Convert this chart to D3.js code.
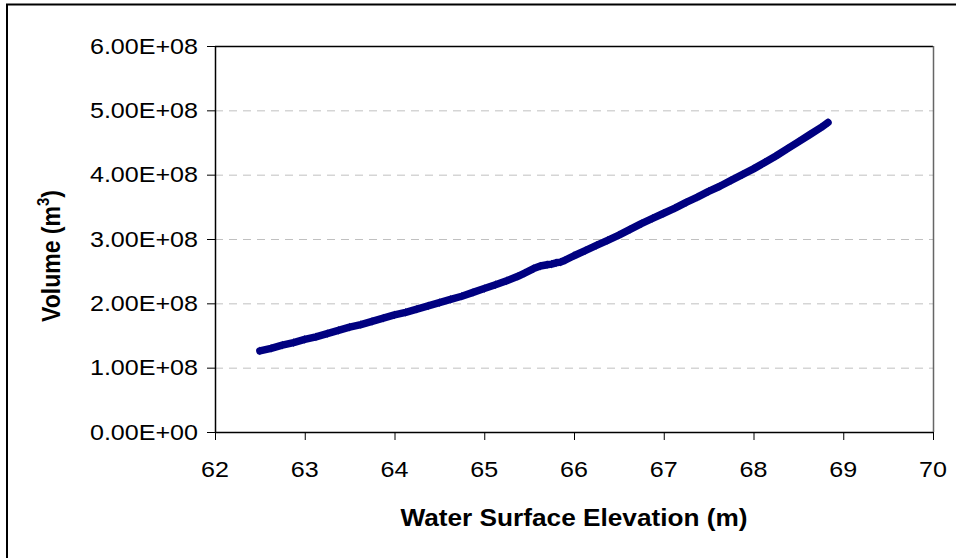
<!DOCTYPE html>
<html>
<head>
<meta charset="utf-8">
<script src="https://cdn.jsdelivr.net/npm/d3@7"></script>
<style>
  body { margin: 0; background: #fff; }
  svg { display: block; }
</style>
</head>
<body>
<svg class="chart"></svg>
<script>
// water surface elevation (m) and volume (m3)
var elevation = [62.50, 62.625, 62.75, 62.875, 63.00, 63.125, 63.25, 63.375, 63.50, 63.625,
  63.75, 63.875, 64.00, 64.125, 64.25, 64.375, 64.50, 64.625, 64.75, 64.875,
  65.00, 65.125, 65.25, 65.375, 65.45, 65.55, 65.625, 65.70, 65.75, 65.80,
  65.85, 65.90, 66.00, 66.125, 66.25, 66.375, 66.50, 66.625, 66.75, 66.875,
  67.00, 67.125, 67.25, 67.375, 67.50, 67.625, 67.75, 67.875, 68.00, 68.125,
  68.25, 68.375, 68.50, 68.625, 68.75, 68.83];
var volume = [1.26e8, 1.30e8, 1.35e8, 1.39e8, 1.44e8, 1.48e8, 1.53e8, 1.58e8, 1.63e8, 1.67e8,
  1.72e8, 1.77e8, 1.82e8, 1.86e8, 1.91e8, 1.96e8, 2.01e8, 2.06e8, 2.11e8, 2.17e8,
  2.23e8, 2.29e8, 2.35e8, 2.42e8, 2.47e8, 2.54e8, 2.58e8, 2.60e8, 2.61e8, 2.63e8,
  2.64e8, 2.67e8, 2.74e8, 2.82e8, 2.90e8, 2.98e8, 3.06e8, 3.15e8, 3.24e8, 3.32e8,
  3.40e8, 3.48e8, 3.57e8, 3.65e8, 3.74e8, 3.82e8, 3.91e8, 4.00e8, 4.09e8, 4.19e8,
  4.29e8, 4.40e8, 4.51e8, 4.62e8, 4.73e8, 4.81e8];

var xTicks = [62, 63, 64, 65, 66, 67, 68, 69, 70];
var yTicks = [0, 1e8, 2e8, 3e8, 4e8, 5e8, 6e8];
var yTickLabels = ["0.00E+00", "1.00E+08", "2.00E+08", "3.00E+08", "4.00E+08", "5.00E+08", "6.00E+08"];

var width = 956;
var height = 558;
var pLeft = 215, pRight = 933, pTop = 46, pBottom = 432;
var font = "'Liberation Sans', Arial, sans-serif";
var sx = 1.14; // picture is stretched sideways

var svg = d3.select(".chart").attr("width", width).attr("height", height);

// outer chart border
svg.append("rect")
    .attr("x", 7).attr("y", 4.5)
    .attr("width", 1000).attr("height", 1000)
    .attr("fill", "none").attr("stroke", "#000").attr("stroke-width", 2);

var x_scale = d3.scaleLinear().domain([62, 70]).range([pLeft, pRight]);
var y_scale = d3.scaleLinear().domain([0, 6e8]).range([pBottom, pTop]);

// grid lines
svg.append("g").selectAll("line")
    .data(yTicks.slice(1, 6))
    .enter().append("line")
    .attr("x1", pLeft).attr("x2", pRight)
    .attr("y1", function(d){return y_scale(d) + 0.5})
    .attr("y2", function(d){return y_scale(d) + 0.5})
    .attr("stroke", "#c0c0c0").attr("stroke-width", 1)
    .attr("stroke-dasharray", "8,6");

// plot area border (top, right)
svg.append("line").attr("x1", pLeft).attr("x2", pRight)
    .attr("y1", pTop + 0.5).attr("y2", pTop + 0.5)
    .attr("stroke", "#000").attr("stroke-width", 1.5);
svg.append("line").attr("x1", pRight + 0.5).attr("x2", pRight + 0.5)
    .attr("y1", pTop).attr("y2", pBottom)
    .attr("stroke", "#666").attr("stroke-width", 1.5);

// axes
var x_axis = d3.axisBottom(x_scale).tickValues(xTicks).tickSize(8).tickFormat("");
var y_axis = d3.axisLeft(y_scale).tickValues(yTicks).tickSize(8).tickFormat("");

var gx = svg.append("g").attr("transform", "translate(0," + pBottom + ")").call(x_axis);
var gy = svg.append("g").attr("transform", "translate(" + pLeft + ",0)").call(y_axis);
gx.select(".domain").attr("d", "M" + pLeft + ",0.5H" + pRight);
gy.select(".domain").attr("d", "M0.5," + pTop + "V" + pBottom);
svg.selectAll(".domain").attr("stroke", "#000").attr("stroke-width", 1.5);
gx.selectAll(".tick line").attr("stroke", "#000").attr("stroke-width", 1);
gy.selectAll(".tick line").attr("stroke", "#000").attr("stroke-width", 1);

// tick labels
svg.append("g").selectAll("text")
    .data(xTicks)
    .enter().append("text")
    .attr("transform", function(d){return "translate(" + x_scale(d) + ",477) scale(" + sx + ",1)"})
    .attr("text-anchor", "middle")
    .attr("font-family", font).attr("font-size", 22)
    .text(function(d){return d});

svg.append("g").selectAll("text")
    .data(yTicks)
    .enter().append("text")
    .attr("transform", function(d){return "translate(198," + (y_scale(d) + 7.5) + ") scale(" + sx + ",1)"})
    .attr("text-anchor", "end")
    .attr("font-family", font).attr("font-size", 22)
    .text(function(d, i){return yTickLabels[i]});

// axis titles
svg.append("text")
    .attr("transform", "translate(" + ((pLeft + pRight) / 2) + ",526) scale(" + sx + ",1)")
    .attr("text-anchor", "middle")
    .attr("font-family", font).attr("font-size", 23).attr("font-weight", "bold")
    .text("Water Surface Elevation (m)");

var yt = svg.append("text")
    .attr("transform", "translate(60,256) rotate(-90) scale(1," + sx + ")")
    .attr("text-anchor", "middle")
    .attr("font-family", font).attr("font-size", 23).attr("font-weight", "bold");
yt.append("tspan").text("Volume (m");
yt.append("tspan").attr("font-size", 15).attr("dy", -10).text("3");
yt.append("tspan").attr("dy", 10).text(")");

// data band: the markers are so dense they read as a thick line
var pts = elevation.map(function(e, i){return [e, volume[i]]});
var line = d3.line()
    .x(function(d){return x_scale(d[0])})
    .y(function(d){return y_scale(d[1])});

svg.append("path")
    .datum(pts)
    .attr("d", line)
    .attr("fill", "none")
    .attr("stroke", "#000080")
    .attr("stroke-width", 7.5)
    .attr("stroke-linejoin", "round")
    .attr("stroke-linecap", "round");

svg.append("g").selectAll("path")
    .data(pts)
    .enter().append("path")
    .attr("transform", function(d){return "translate(" + x_scale(d[0]) + "," + y_scale(d[1]) + ")"})
    .attr("d", d3.symbol().type(d3.symbolDiamond).size(22))
    .attr("fill", "#000080");
</script>
</body>
</html>
